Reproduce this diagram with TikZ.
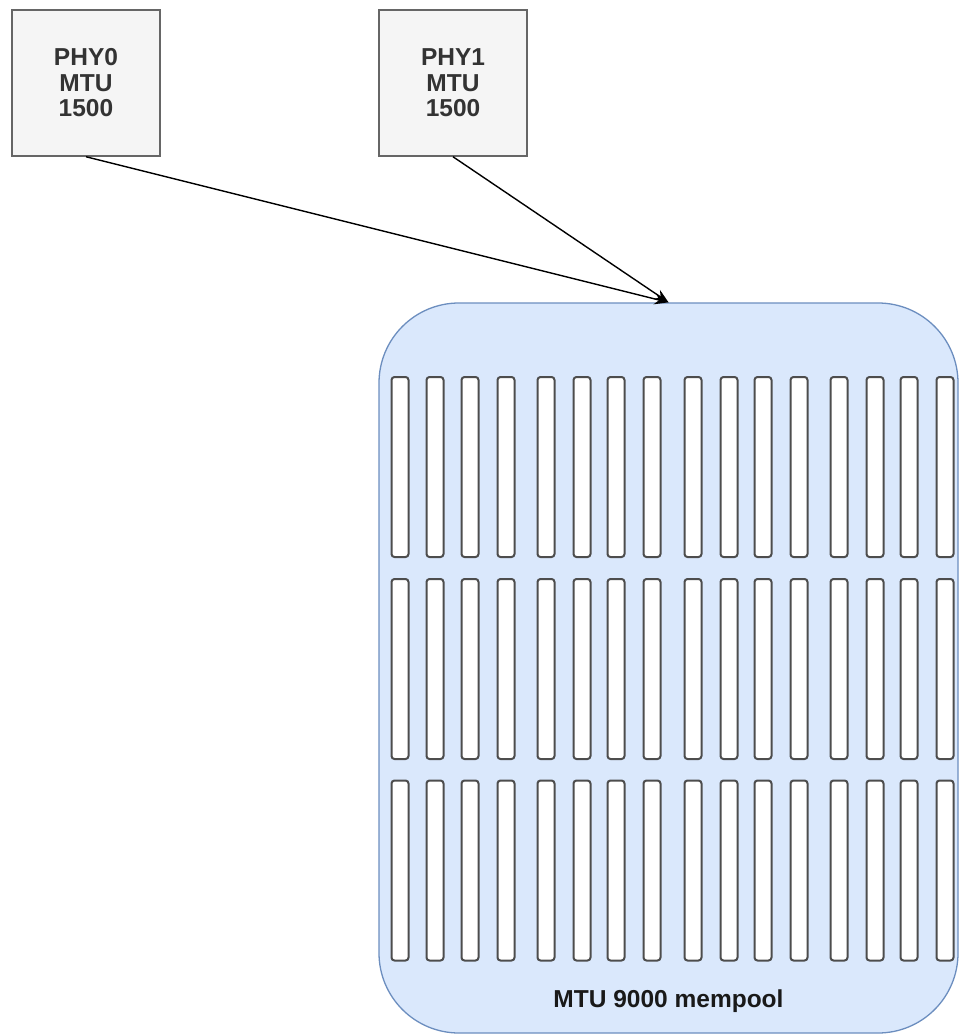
\documentclass[tikz,border=0pt]{standalone}
\usepackage{fontspec}
\setmainfont{Liberation Sans}
\usetikzlibrary{arrows.meta}
\definecolor{phyfill}{HTML}{F5F5F5}
\definecolor{phyline}{HTML}{666666}
\definecolor{phytext}{HTML}{333333}
\definecolor{poolfill}{HTML}{DAE8FC}
\definecolor{poolline}{HTML}{6C8EBF}
\definecolor{slotline}{HTML}{4D4D4D}
\tikzset{
  phybox/.style={draw=phyline, fill=phyfill, line width=1.5pt, minimum width=148pt, minimum height=146pt, inner sep=0pt, align=center, text=phytext, font=\fontsize{24.5}{25.5}\selectfont\bfseries},
  poolbox/.style={draw=poolline, fill=poolfill, line width=1.3pt, rounded corners=80pt, minimum width=579pt, minimum height=730pt, inner sep=0pt},
  slotbox/.style={draw=slotline, fill=white, line width=2pt, rounded corners=3pt, minimum width=17pt, minimum height=180pt, inner sep=0pt},
  conn/.style={draw=black, line width=1.4pt, -{Stealth[length=14pt,width=11pt]}},
  poollabel/.style={text=black!90, font=\fontsize{24.5}{25.5}\selectfont\bfseries, inner sep=0pt}
}
\begin{document}
\begin{tikzpicture}[x=1pt,y=-1pt]
\useasboundingbox (0,0) rectangle (959,1035);
\node[phybox] (phy0) at (86,83) {PHY0\\MTU\\1500};
\node[phybox] (phy1) at (453,83) {PHY1\\MTU\\1500};
\node[poolbox] (pool) at (668.5,668) {};
\foreach \x [count=\i] in {400,435,470,506,546,582,616,652,693,729,763,799,839,875,909,945}{
  \foreach \y [count=\j] in {467,669,870.5}{
    \node[slotbox] (slot-\j-\i) at (\x,\y) {};
  }
}
\node[poollabel] (poollbl) at (668.5,1001) {MTU 9000 mempool};
\draw[conn] (phy0.south) -- (pool.north);
\draw[conn] (phy1.south) -- (pool.north);
\end{tikzpicture}
\end{document}
